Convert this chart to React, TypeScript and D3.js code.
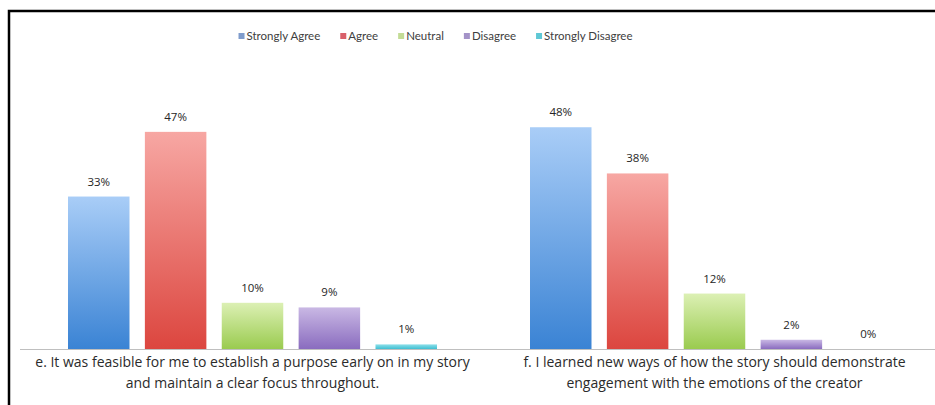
import React, { useEffect, useRef } from "react";
import * as d3 from "d3";

const categories = [
  "e. It was feasible for me to establish a purpose early on in my story|and maintain a clear focus throughout.",
  "f. I learned new ways of how the story should demonstrate|engagement with the emotions of the creator",
];
const seriesNames = ["Strongly Agree", "Agree", "Neutral", "Disagree", "Strongly Disagree"];
const valuesE = [33, 47, 10, 9, 1];
const valuesF = [48, 38, 12, 2, 0];
const seriesTop = ["#a9cdf7", "#f7a7a3", "#dcf0b4", "#c9b8e4", "#8ee0ea"];
const seriesBottom = ["#3a83d4", "#dc463f", "#9acb4f", "#8a6cbf", "#3fbfd2"];
const legendColors = ["#7f9ccc", "#d9606a", "#c3dc96", "#a493c8", "#5fc8d5"];

const W = 935;
const H = 405;

export default function App() {
  const ref = useRef<SVGSVGElement>(null);
  useEffect(() => {
    const svg = d3.select(ref.current);
    svg.selectAll("*").remove();
    const font = "Lato, 'Open Sans', sans-serif";
    const font2 = "'Open Sans', Lato, sans-serif";
    const defs = svg.append("defs");
    seriesNames.forEach((s, i) => {
      const g = defs
        .append("linearGradient")
        .attr("id", "grad" + i)
        .attr("x1", 0)
        .attr("y1", 0)
        .attr("x2", 0)
        .attr("y2", 1);
      g.append("stop").attr("offset", "0%").attr("stop-color", seriesTop[i]);
      g.append("stop").attr("offset", "100%").attr("stop-color", seriesBottom[i]);
    });

    svg.append("rect").attr("width", W).attr("height", H).attr("fill", "#fff");
    svg
      .append("rect")
      .attr("x", 9)
      .attr("y", 11)
      .attr("width", W + 20)
      .attr("height", H + 20)
      .attr("fill", "none")
      .attr("stroke", "#000")
      .attr("stroke-width", 2.5);

    const data = [valuesE, valuesF];
    const x0 = d3.scaleBand<number>().domain([0, 1]).range([21.5, 945.5]);
    const x1 = d3
      .scaleBand<string>()
      .domain(seriesNames)
      .range([46.5, 462 - 46.5])
      .paddingInner(0.2);
    const y = d3.scaleLinear().domain([0, 50]).range([349, 118]);

    const groups = svg
      .selectAll("g.cat")
      .data(data)
      .join("g")
      .attr("class", "cat")
      .attr("transform", (_d, i) => `translate(${x0(i)},0)`);

    groups
      .selectAll("rect")
      .data((d) => d.map((v, i) => ({ v, i })))
      .join("rect")
      .attr("x", (d) => x1(seriesNames[d.i])!)
      .attr("y", (d) => y(d.v))
      .attr("width", x1.bandwidth())
      .attr("height", (d) => y(0) - y(d.v))
      .attr("fill", (d) => `url(#grad${d.i})`);

    groups
      .selectAll("text.lbl")
      .data((d) => d.map((v, i) => ({ v, i })))
      .join("text")
      .attr("class", "lbl")
      .attr("x", (d) => x1(seriesNames[d.i])! + x1.bandwidth() / 2)
      .attr("y", (d) => y(d.v) - 11)
      .attr("text-anchor", "middle")
      .attr("font-family", font2)
      .attr("font-size", 11.5)
      .attr("fill", "#262626")
      .text((d) => d.v + "%");

    // axis
    svg
      .append("line")
      .attr("x1", 20)
      .attr("x2", W)
      .attr("y1", y(0) + 0.5)
      .attr("y2", y(0) + 0.5)
      .attr("stroke", "#bfbfbf")
      .attr("stroke-width", 1);

    categories.forEach((c, i) => {
      const lines = c.split("|");
      const t = svg
        .append("text")
        .attr("text-anchor", "middle")
        .attr("font-family", font2)
        .attr("font-size", 14)
        .attr("fill", "#2b2b2b");
      lines.forEach((l, j) => {
        t.append("tspan")
          .attr("x", x0(i)! + x0.bandwidth() / 2)
          .attr("y", 367 + j * 21)
          .text(l);
      });
    });

    // legend
    const lg = svg.append("g");
    let cx = 0;
    seriesNames.forEach((s, i) => {
      lg.append("rect")
        .attr("x", cx)
        .attr("y", -3)
        .attr("width", 6)
        .attr("height", 6)
        .attr("fill", legendColors[i]);
      const t = lg
        .append("text")
        .attr("x", cx + 8)
        .attr("y", 4)
        .attr("font-family", font)
        .attr("font-size", 11.5)
        .attr("fill", "#404040")
        .text(s);
      const w = (t.node() as SVGTextElement).getComputedTextLength();
      cx += 8 + w + (i < seriesNames.length - 1 ? 20 : 0);
    });
    lg.attr("transform", `translate(${435.5 - cx / 2},36)`);
  }, []);
  return (
    <svg
      ref={ref}
      width={W}
      height={H}
      style={{ position: "absolute", left: 0, top: 0, display: "block" }}
    />
  );
}
